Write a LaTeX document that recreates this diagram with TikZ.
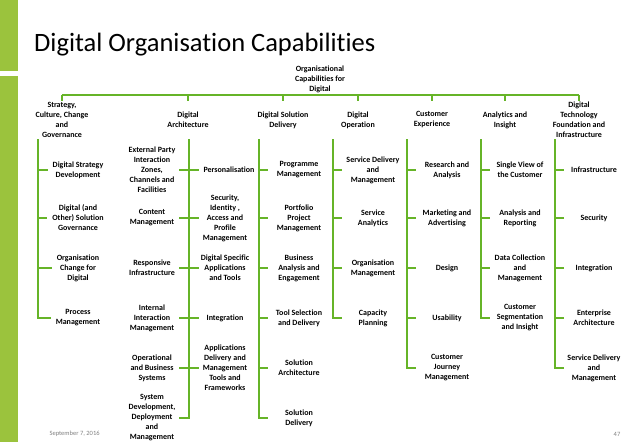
\documentclass[tikz,border=0pt]{standalone}
\usepackage{fontspec}
\setmainfont{Carlito}[Ligatures={NoCommon,NoRare}]
\definecolor{bargreen}{RGB}{155,195,61}
\definecolor{linegreen}{RGB}{102,180,40}
\begin{document}
\begin{tikzpicture}[x=1pt,y=-1pt,
  lbl/.style={font=\bfseries\fontsize{8}{10}\selectfont,align=center,inner sep=1pt},
  conn/.style={draw=linegreen,line width=1.3pt}]
\useasboundingbox (0,0) rectangle (638,442);
\fill[bargreen] (0,0) rectangle (18,71);
\fill[bargreen] (0,76) rectangle (18,442);
\node[anchor=west,font=\fontsize{26.5}{30}\selectfont,inner sep=0] (title) at (34,45) {Digital Organisation Capabilities};
\node[lbl] (root) at (320,79) {Organisational\\Capabilities for\\Digital};
\coordinate (bus) at (320,95);
% headers
\node[lbl] (h1) at (62,120) {Strategy,\\Culture, Change\\and\\Governance};
\node[lbl] (h2) at (188,120) {Digital\\Architecture};
\node[lbl] (h3) at (283,120) {Digital Solution\\Delivery};
\node[lbl] (h4) at (358,120) {Digital\\Operation};
\node[lbl] (h5) at (432,120) {Customer\\Experience};
\node[lbl] (h6) at (505,120) {Analytics and\\Insight};
\node[lbl] (h7) at (579,120) {Digital\\Technology\\Foundation and\\Infrastructure};
\draw[conn] (root.south) -- (bus);
\draw[conn] (h1.center|-bus) -- (h7.center|-bus);
\foreach \h in {h1,h2,h3,h4,h5,h6,h7}{\draw[conn] (\h.center|-bus) -- ++(0,6);}
% column top coordinates
\coordinate (t1) at (38,139);
\coordinate (t2) at (189,139);
\coordinate (t3) at (259,139);
\coordinate (t4) at (333,139);
\coordinate (t5) at (407,139);
\coordinate (t6) at (481,139);
\coordinate (t7) at (555,139);
% column 1
\node[lbl] (a1) at (78,170) {Digital Strategy\\Development};
\node[lbl] (a2) at (78,218) {Digital (and\\Other) Solution\\Governance};
\node[lbl] (a3) at (78,268) {Organisation\\Change for\\Digital};
\node[lbl] (a4) at (78,318) {Process\\Management};
\foreach \n in {a1,a2,a3,a4}{\draw[conn] (t1) |- ([xshift=-4pt]\n.west|-\n.center);}
% column 2 left
\node[lbl] (b1) at (152,170) {External Party\\Interaction\\Zones,\\Channels and\\Facilities};
\node[lbl] (b2) at (152,218) {Content\\Management};
\node[lbl] (b3) at (152,268) {Responsive\\Infrastructure};
\node[lbl] (b4) at (152,318) {Internal\\Interaction\\Management};
\node[lbl] (b5) at (152,368) {Operational\\and Business\\Systems};
\node[lbl] (b6) at (152,418) {System\\Development,\\Deployment\\and\\Management};
\foreach \n in {b1,b2,b3,b4,b5,b6}{\draw[conn] (t2) |- ([xshift=-10pt]t2|-\n.center);}
% column 2 right
\node[lbl] (c1) at (229,170) {Personalisation};
\node[lbl] (c2) at (225,218) {Security,\\Identity ,\\Access and\\Profile\\Management};
\node[lbl] (c3) at (225,268) {Digital Specific\\Applications\\and Tools};
\node[lbl] (c4) at (225,318) {Integration};
\node[lbl] (c5) at (225,368) {Applications\\Delivery and\\Management\\Tools and\\Frameworks};
\foreach \n in {c1,c2,c3,c4,c5}{\draw[conn] (t2|-\n.center) -- ([xshift=10pt]t2|-\n.center);}
% column 3
\node[lbl] (d1) at (299,170) {Programme\\Management};
\node[lbl] (d2) at (299,218) {Portfolio\\Project\\Management};
\node[lbl] (d3) at (299,268) {Business\\Analysis and\\Engagement};
\node[lbl] (d4) at (299,318) {Tool Selection\\and Delivery};
\node[lbl] (d5) at (299,368) {Solution\\Architecture};
\node[lbl] (d6) at (299,418) {Solution\\Delivery};
\foreach \n in {d1,d2,d3,d4,d5,d6}{\draw[conn] (t3) |- ([xshift=9pt]t3|-\n.center);}
% column 4
\node[lbl] (e1) at (373,170) {Service Delivery\\and\\Management};
\node[lbl] (e2) at (373,218) {Service\\Analytics};
\node[lbl] (e3) at (373,268) {Organisation\\Management};
\node[lbl] (e4) at (373,318) {Capacity\\Planning};
\foreach \n in {e1,e2,e3,e4}{\draw[conn] (t4) |- ([xshift=9pt]t4|-\n.center);}
% column 5
\node[lbl] (f1) at (447,170) {Research and\\Analysis};
\node[lbl] (f2) at (447,218) {Marketing and\\Advertising};
\node[lbl] (f3) at (447,268) {Design};
\node[lbl] (f4) at (447,318) {Usability};
\node[lbl] (f5) at (447,368) {Customer\\Journey\\Management};
\foreach \n in {f1,f2,f3,f4,f5}{\draw[conn] (t5) |- ([xshift=9pt]t5|-\n.center);}
% column 6
\node[lbl] (g1) at (520,170) {Single View of\\the Customer};
\node[lbl] (g2) at (520,218) {Analysis and\\Reporting};
\node[lbl] (g3) at (520,268) {Data Collection\\and\\Management};
\node[lbl] (g4) at (520,318) {Customer\\Segmentation\\and Insight};
\foreach \n in {g1,g2,g3,g4}{\draw[conn] (t6) |- ([xshift=9pt]t6|-\n.center);}
% column 7
\node[lbl] (k1) at (594,170) {Infrastructure};
\node[lbl] (k2) at (594,218) {Security};
\node[lbl] (k3) at (594,268) {Integration};
\node[lbl] (k4) at (594,318) {Enterprise\\Architecture};
\node[lbl] (k5) at (594,368) {Service Delivery\\and\\Management};
\foreach \n in {k1,k2,k3,k4,k5}{\draw[conn] (t7) |- ([xshift=9pt]t7|-\n.center);}
% footer
\node[anchor=west,text=gray,font=\fontsize{6.5}{7}\selectfont] (date) at (46,434) {September 7, 2016};
\node[text=gray,font=\fontsize{6.5}{7}\selectfont] (page) at (617,434) {47};
\end{tikzpicture}
\end{document}
